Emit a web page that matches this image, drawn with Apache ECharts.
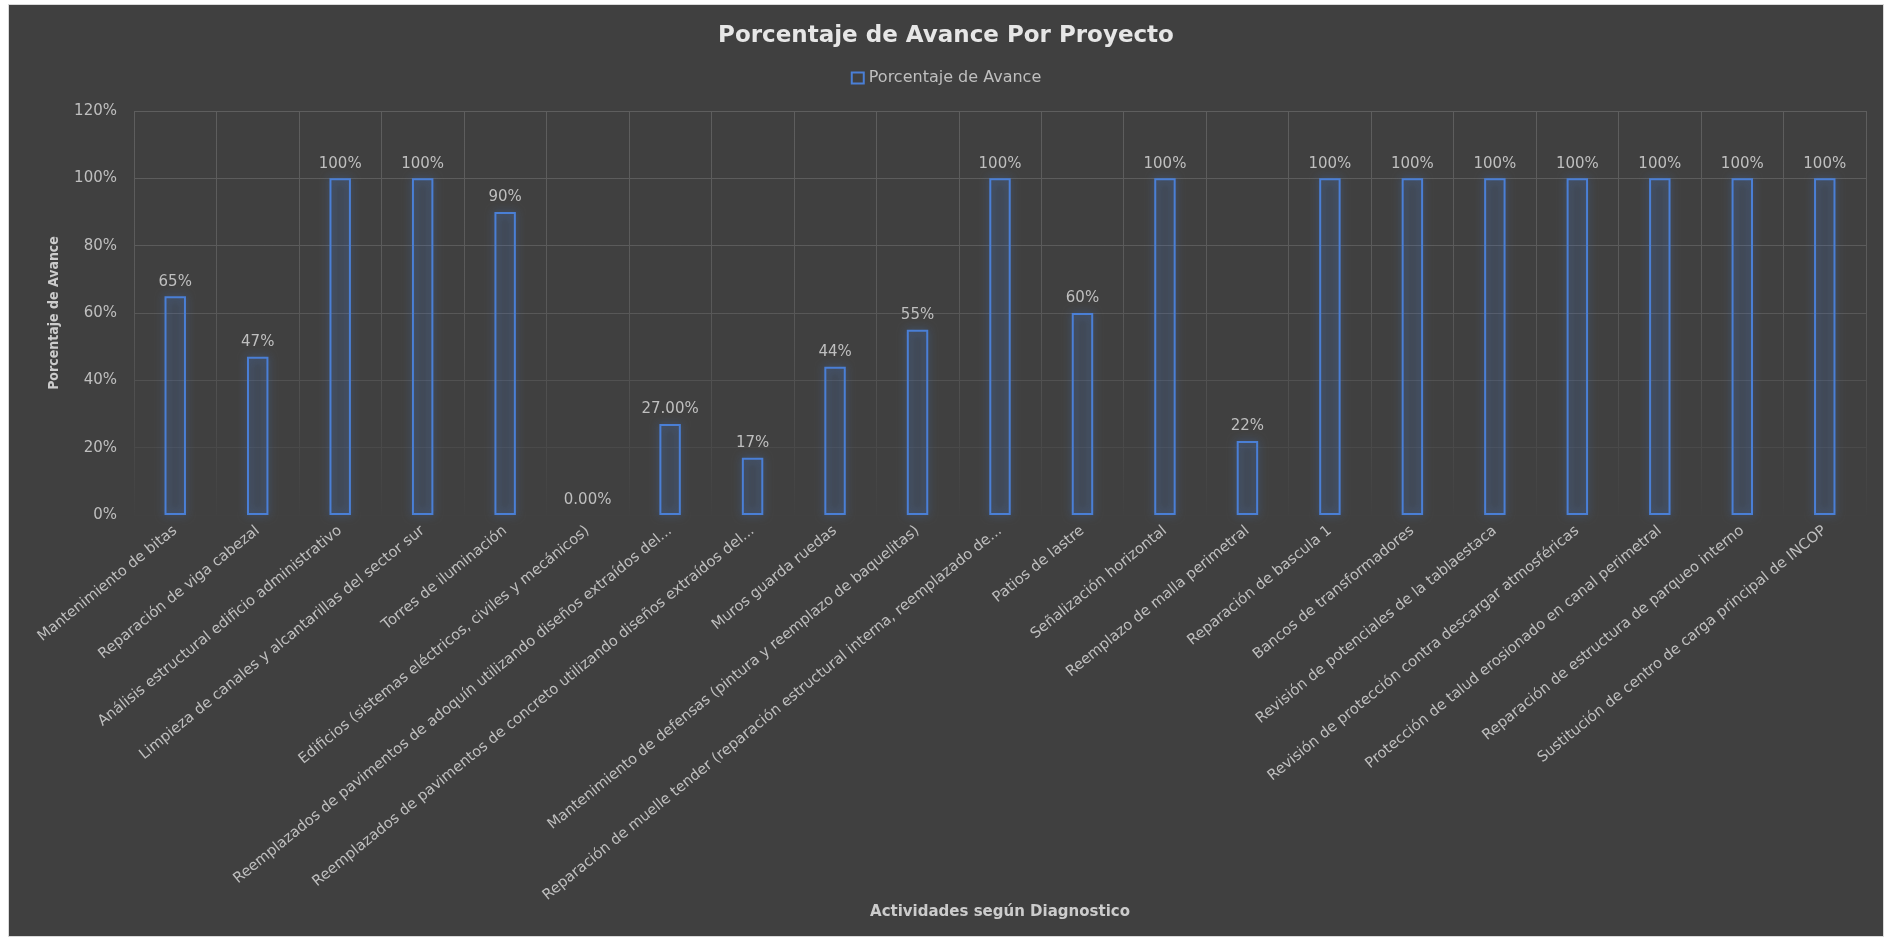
<!DOCTYPE html>
<html>
<head>
<meta charset="utf-8">
<script src="https://cdn.jsdelivr.net/npm/echarts@6/dist/echarts.min.js"></script>
<style>
  html, body { margin: 0; padding: 0; background: #ffffff; width: 1890px; height: 938px; overflow: hidden; }
  #frame { position: absolute; left: 8px; top: 4px; width: 1874px; height: 931px; border: 1px solid #d9d9d9; background: #404040; }
  #chart { width: 1874px; height: 931px; }
</style>
</head>
<body>
<div id="frame"><div id="chart"></div></div>
<script>
const categories = [
  'Mantenimiento de bitas',
  'Reparación de viga cabezal',
  'Análisis estructural edificio administrativo',
  'Limpieza de canales y alcantarillas del sector sur',
  'Torres de iluminación',
  'Edificios (sistemas eléctricos, civiles y mecánicos)',
  'Reemplazados de pavimentos de adoquín utilizando diseños extraídos del...',
  'Reemplazados de pavimentos de concreto utilizando diseños extraídos del...',
  'Muros guarda ruedas',
  'Mantenimiento de defensas (pintura y reemplazo de baquelitas)',
  'Reparación de muelle tender (reparación estructural interna, reemplazado de...',
  'Patios de lastre',
  'Señalización horizontal',
  'Reemplazo de malla perimetral',
  'Reparación de bascula 1',
  'Bancos de transformadores',
  'Revisión de potenciales de la tablaestaca',
  'Revisión de protección contra descargar atmosféricas',
  'Protección de talud erosionado en canal perimetral',
  'Reparación de estructura de parqueo interno',
  'Sustitución de centro de carga principal de INCOP'
];
const avance = [0.65, 0.47, 1, 1, 0.90, 0, 0.27, 0.17, 0.44, 0.55, 1, 0.60, 1, 0.22, 1, 1, 1, 1, 1, 1, 1];
const labelTexts = ['65%', '47%', '100%', '100%', '90%', '0.00%', '27.00%', '17%', '44%', '55%', '100%', '60%', '100%', '22%', '100%', '100%', '100%', '100%', '100%', '100%', '100%'];
const yTicks = [0, 0.2, 0.4, 0.6, 0.8, 1.0, 1.2];

const textColor = '#bfbfbf';
const barBlue = '#4a7fd6';

// grid placement inside the chart container (container is offset 9,5 in the page)
const GRID_TOP = 106, GRID_BOTTOM_PX = 510;

const chart = echarts.init(document.getElementById('chart'), null, { renderer: 'canvas' });

function gridGradient() {
  return new echarts.graphic.LinearGradient(0, GRID_TOP, 0, GRID_BOTTOM_PX, [
    { offset: 0, color: '#5e5e5e' },
    { offset: 0.45, color: '#5a5a5a' },
    { offset: 0.8, color: '#4b4b4b' },
    { offset: 1, color: '#414141' }
  ], true);
}

const barData = avance.map(function (v) {
  if (v === 0) {
    return { value: v, itemStyle: { borderWidth: 0, shadowBlur: 0, color: 'rgba(0,0,0,0)' } };
  }
  return v;
});

chart.setOption({
  backgroundColor: '#404040',
  animation: false,
  title: {
    text: 'Porcentaje de Avance Por Proyecto',
    left: 'center',
    top: 15,
    textStyle: { color: '#e6e6e6', fontFamily: 'DejaVu Sans', fontWeight: 'bold', fontSize: 23 }
  },
  legend: {
    top: 60,
    left: 'center',
    itemWidth: 12,
    itemHeight: 11,
    itemGap: 4,
    icon: 'rect',
    data: [{
      name: 'Porcentaje de Avance',
      itemStyle: { color: 'rgba(0,0,0,0)', borderColor: barBlue, borderWidth: 2 }
    }],
    textStyle: { color: textColor, fontFamily: 'DejaVu Sans', fontSize: 16, padding: [0, 0, 0, 0] }
  },
  grid: {
    left: 125, right: 17, top: GRID_TOP, bottom: 931 - GRID_BOTTOM_PX,
    containLabel: false,
    outerBoundsMode: 'none'
  },
  xAxis: {
    type: 'category',
    data: categories,
    name: 'Actividades según Diagnostico',
    nameLocation: 'middle',
    nameGap: 390,
    nameMoveOverlap: false,
    nameTextStyle: { color: '#cccccc', fontFamily: 'DejaVu Sans', fontWeight: 'bold', fontSize: 15 },
    axisLine: { show: false },
    axisTick: { show: false },
    splitLine: { show: true, interval: 0, lineStyle: { color: gridGradient(), width: 1 } },
    axisLabel: {
      interval: 0,
      rotate: 39,
      margin: 14,
      color: textColor,
      fontFamily: 'DejaVu Sans',
      fontSize: 14.7
    }
  },
  yAxis: {
    type: 'value',
    min: 0,
    max: 1.2,
    interval: 0.2,
    name: 'Porcentaje de Avance',
    nameLocation: 'middle',
    nameGap: 73,
    nameRotate: 90,
    nameTextStyle: { color: '#cccccc', fontFamily: '"Liberation Sans Narrow", "DejaVu Sans Condensed", sans-serif', fontWeight: 'bold', fontSize: 14 },
    axisLine: { show: false },
    axisTick: { show: false },
    splitLine: { show: true, lineStyle: { color: gridGradient(), width: 1 } },
    axisLabel: {
      margin: 17,
      color: textColor,
      fontFamily: 'DejaVu Sans',
      fontSize: 15,
      formatter: function (v) {
        const i = yTicks.findIndex(function (t) { return Math.abs(t - v) < 1e-9; });
        return Math.round((i >= 0 ? yTicks[i] : v) * 100) + '%';
      }
    }
  },
  series: [{
    name: 'Porcentaje de Avance',
    type: 'bar',
    data: barData,
    barWidth: '26%',
    itemStyle: {
      color: 'rgba(74,127,214,0.10)',
      borderColor: barBlue,
      borderWidth: 2,
      shadowBlur: 8,
      shadowColor: 'rgba(74,127,214,0.55)'
    },
    label: {
      show: true,
      position: 'top',
      distance: 7,
      color: textColor,
      fontFamily: 'DejaVu Sans',
      fontSize: 15,
      formatter: function (p) { return labelTexts[p.dataIndex]; }
    }
  }]
});
</script>
</body>
</html>
